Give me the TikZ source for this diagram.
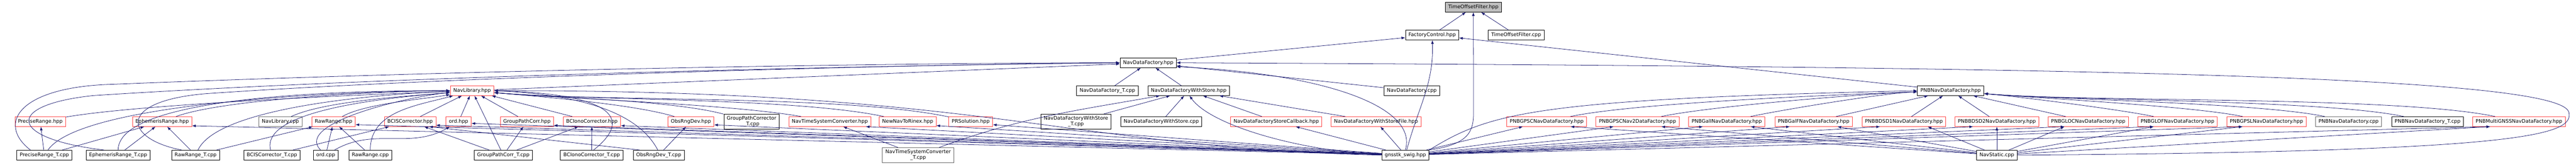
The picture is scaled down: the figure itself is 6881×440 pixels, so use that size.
\documentclass[tikz,border=0pt]{standalone}
\usepackage{fontspec}
\setmainfont{DejaVu Sans}
\usetikzlibrary{arrows.meta}

\definecolor{linkblue}{HTML}{191970}
\definecolor{trunc}{HTML}{FF4040}
\definecolor{rootfill}{HTML}{BFBFBF}

\tikzset{
  filebox/.style={draw=black, fill=white, line width=0.75pt, inner xsep=6pt, inner ysep=2pt,
    minimum height=19.5pt, align=center, font=\fontsize{10}{11.5}\selectfont},
  redbox/.style={filebox, draw=trunc},
  graybox/.style={filebox, draw=black!60},
  rootbox/.style={filebox, fill=rootfill},
  twobox/.style={minimum height=30pt},
  dep/.style={->, >={Latex[length=7.5pt,width=5.5pt]}, draw=linkblue, line width=0.8pt}
}

\begin{document}
\begin{tikzpicture}[x=0.75pt, y=-0.75pt]

    \def \ya {19}
    \def \yb {93.5}
    \def \yc {167.5}
    \def \yd {242}
    \def \ye {324.5}
    \def \yf {414}

    \useasboundingbox (0,0) rectangle (6881,440);
    \fill[white] (0,0) rectangle (6881,440);

    % upper part of the graph
    \node[rootbox] (tofh) at (3935.5,\ya) {TimeOffsetFilter.hpp};
    \node[filebox] (fc) at (3825.5,\yb) {FactoryControl.hpp};
    \node[filebox] (tofc) at (4050,\yb) {TimeOffsetFilter.cpp};
    \node[filebox] (ndf) at (3067,\yc) {NavDataFactory.hpp};
    \node[redbox] (nlib) at (1261,\yd) {NavLibrary.hpp};
    \node[filebox] (ndft) at (2958,\yd) {NavDataFactory\_T.cpp};
    \node[filebox] (ndfws) at (3175,\yd) {NavDataFactoryWithStore.hpp};
    \node[filebox] (ndfc) at (3771,\yd) {NavDataFactory.cpp};
    \node[filebox] (pnb) at (5210.5,\yd) {PNBNavDataFactory.hpp};

    % row of headers
    \foreach \nm/\x/\txt in {prh/107.5/PreciseRange.hpp, erh/433/EphemerisRange.hpp,
        rrh/891/RawRange.hpp, bcish/1095.5/BCISCorrector.hpp, ordh/1225/ord.hpp,
        gpch/1407.5/GroupPathCorr.hpp, bcioh/1581/BCIonoCorrector.hpp,
        ordevh/1845.5/ObsRngDev.hpp, ntsch/2216.5/NavTimeSystemConverter.hpp,
        nntr/2424.5/NewNavToRinex.hpp, prs/2593/PRSolution.hpp,
        ndfscb/3409/NavDataFactoryStoreCallback.hpp, ndfwsf/3675.5/NavDataFactoryWithStoreFile.hpp,
        pnbm/6728.5/PNBMultiGNSSNavDataFactory.hpp}
    {
      \node[redbox] (\nm) at (\x,\ye) {\txt};
    }
    \foreach \k/\x/\sys in {1/4131.5/GPSCNav, 2/4374/GPSCNav2, 3/4612.5/GalINav,
        4/4844.5/GalFNav, 5/5085.5/BDSD1Nav, 6/5334/BDSD2Nav, 7/5578/GLOCNav,
        8/5816.5/GLOFNav, 9/6054/GPSLNav}
    {
      \node[redbox] (pnb\k) at (\x,\ye) {PNB\sys DataFactory.hpp};
    }
    \node[graybox] (nlibc) at (749,\ye) {NavLibrary.cpp};
    \node[filebox, twobox] (gpct) at (2007.5,\ye) {GroupPathCorrector\\\_T.cpp};
    \node[filebox, twobox] (ndfwst) at (2874,\ye) {NavDataFactoryWithStore\\\_T.cpp};
    \node[filebox] (ndfwsc) at (3102,\ye) {NavDataFactoryWithStore.cpp};
    \node[graybox] (pnbc) at (6273.5,\ye) {PNBNavDataFactory.cpp};
    \node[filebox] (pnbt) at (6484.5,\ye) {PNBNavDataFactory\_T.cpp};

    % bottom row
    \foreach \nm/\x/\txt in {prt/118.5/PreciseRange\_T.cpp, ert/315.5/EphemerisRange\_T.cpp,
        rrt/522.5/RawRange\_T.cpp, bcist/726.5/BCISCorrector\_T.cpp, ordc/870/ord.cpp,
        rrc/989/RawRange.cpp, gpcrt/1344.5/GroupPathCorr\_T.cpp,
        biot/1580.5/BCIonoCorrector\_T.cpp, ordevt/1759.5/ObsRngDev\_T.cpp,
        swig/3754/gnsstk\_swig.hpp, nstat/5334/NavStatic.cpp}
    {
      \node[filebox] (\nm) at (\x,\yf) {\txt};
    }
    \node[graybox, twobox] (ntsct) at (2452.5,\yf) {NavTimeSystemConverter\\\_T.cpp};

    % TimeOffsetFilter.hpp and FactoryControl.hpp
    \draw[dep] (fc) -- (tofh);
    \draw[dep] (tofc) -- (tofh);
    \draw[dep] (swig.north east) .. controls (3925,385) and (3936,350) .. (3936,300) -- (tofh);
    \draw[dep] (ndf) -- (fc);
    \draw[dep] (pnb) -- (fc);
    \draw[dep] (swig) to[out=75, in=-88] (fc);

    % NavDataFactory.hpp
    \draw[dep] (nlib) -- (ndf);
    \draw[dep] (ndft) -- (ndf);
    \draw[dep] (ndfws) -- (ndf);
    \draw[dep] (ndfc) -- (ndf);
    \draw[dep] (prt.160) .. controls (-10,330) and (50,232) .. (300,225)
      .. controls (1300,185) and (2400,168) .. (ndf.west);
    \draw[dep] (ert.160) .. controls (20,370) and (10,280) .. (250,255)
      .. controls (1100,200) and (2400,174) .. (ndf.west);
    \draw[dep] (rrt.160) .. controls (330,370) and (310,270) .. (550,250)
      .. controls (1200,205) and (2400,172) .. (ndf.west);
    \draw[dep] (swig.north) .. controls (3790,280) and (3520,195) .. (ndf.-8);
    \draw[dep] (nstat.east) .. controls (6750,405) and (6875,360) .. (6862,300)
      .. controls (6840,200) and (5500,178) .. (ndf.east);

    % NavLibrary.hpp
    \draw[dep] (prh) to[out=10, in=182, looseness=0.5] (nlib);
    \draw[dep] (erh) to[out=20, in=180, looseness=0.5] (nlib);
    \draw[dep] (nlibc) to[out=25, in=185, looseness=0.6] (nlib);
    \draw[dep] (rrh) to[out=30, in=190, looseness=0.6] (nlib);
    \draw[dep] (bcish) -- (nlib);
    \draw[dep] (prt) to[out=55, in=180, looseness=0.4] (nlib);
    \draw[dep] (ert) to[out=90, in=180, looseness=0.45] (nlib);
    \draw[dep] (rrt) to[out=65, in=182, looseness=0.5] (nlib);
    \draw[dep] (bcist) to[out=105, in=185, looseness=0.6] (nlib);
    \draw[dep] (ordc) to[out=135, in=185, looseness=0.7] (nlib);
    \draw[dep] (rrc) to[out=90, in=195] (nlib);
    \draw[dep] (ordh) -- (nlib);
    \draw[dep] (gpch) -- (nlib);
    \draw[dep] (bcioh) -- (nlib);
    \draw[dep] (gpcrt) -- (nlib);
    \draw[dep] (biot.70) .. controls (1700,310) and (1620,250) .. (nlib.east);
    \draw[dep] (ordevt.100) .. controls (1715,320) and (1600,255) .. (nlib.east);
    \foreach \src/\o in {ordevh/163, gpct/165, ntsch/170, nntr/168, prs/168}
      \draw[dep] (\src) to[out=\o, in=-5, looseness=0.6] (nlib);
    \draw[dep] (swig.west) .. controls (2850,395) and (2650,240) .. (nlib.east);

    % headers from their tests
    \draw[dep] (prt) -- (prh);
    \draw[dep] (prt) -- (erh);
    \draw[dep] (ert) -- (erh);
    \draw[dep] (rrt) -- (erh);
    \draw[dep] (rrt) -- (rrh);
    \draw[dep] (bcist) -- (bcish);
    \draw[dep] (ordc) -- (rrh);
    \draw[dep] (ordc) to[out=30, in=-150] (ordh);
    \draw[dep] (rrc) -- (rrh);
    \draw[dep] (gpcrt) -- (bcish);
    \draw[dep] (gpcrt) -- (gpch);
    \draw[dep] (gpcrt) -- (bcioh);
    \draw[dep] (biot) -- (bcioh);
    \draw[dep] (ordevt) -- (ordevh);
    \draw[dep] (ordevt.165) -- (bcish.-15);
    \draw[dep] (ntsct) -- (ntsch);

    % NavDataFactoryWithStore.hpp
    \draw[dep] (ndfwst) -- (ndfws);
    \draw[dep] (ndfwsc) -- (ndfws);
    \draw[dep] (ndfscb) -- (ndfws);
    \draw[dep] (ndfwsf) -- (ndfws);
    \draw[dep] (ntsct) to[out=20, in=190] (ndfws);
    \draw[dep] (swig.west) .. controls (3450,400) and (3230,330) .. (ndfws.-80);

    % PNBNavDataFactory.hpp
    \foreach \k in {1,2,3}
      \draw[dep] (pnb\k) to[out=12, in=182, looseness=0.5] (pnb);
    \foreach \k in {4,5,6,7}
      \draw[dep] (pnb\k) -- (pnb);
    \foreach \src in {pnb8, pnb9, pnbc, pnbt, pnbm}
      \draw[dep] (\src) to[out=168, in=-5, looseness=0.5] (pnb);
    \draw[dep] (swig.north east) .. controls (3980,300) and (4100,265) .. (pnb.west);

    % gnsstk_swig.hpp and NavStatic.cpp
    \foreach \dst in {erh, rrh, bcish, ordh, gpch, bcioh, ordevh, ntsch, nntr, prs}
      \draw[dep] (swig) -- (\dst.-8);
    \draw[dep] (swig) -- (ndfscb);
    \draw[dep] (swig) -- (ndfwsf);
    \foreach \k in {1,...,9}
      \draw[dep] (swig) -- (pnb\k.-168);
    \draw[dep] (swig) -- (pnbm.-170);
    \foreach \k in {1,...,5}
      \draw[dep] (nstat) -- (pnb\k.-12);
    \draw[dep] (nstat) -- (pnb6);
    \foreach \k in {7,8,9}
      \draw[dep] (nstat) -- (pnb\k.-168);
    \draw[dep] (nstat) -- (pnbm.-170);

\end{tikzpicture}
\end{document}
